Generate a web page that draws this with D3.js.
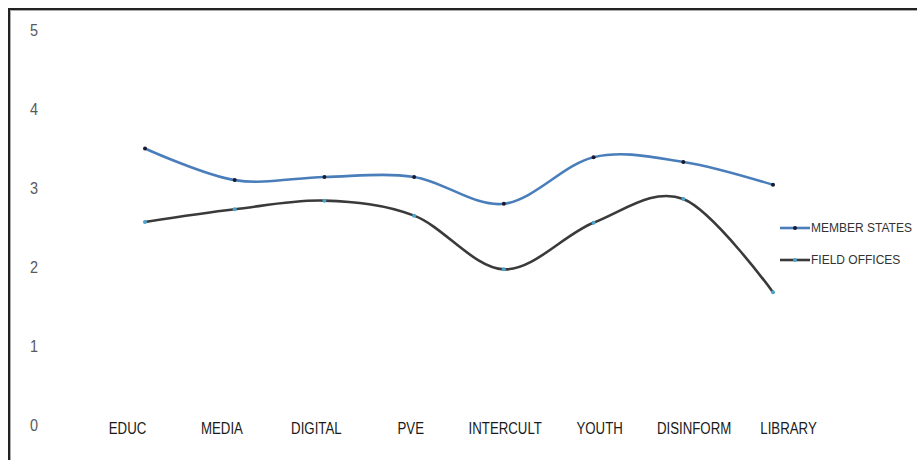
<!DOCTYPE html>
<html>
<head>
<meta charset="utf-8">
<script src="https://cdn.jsdelivr.net/npm/d3@7"></script>
<style>
  html, body { margin: 0; padding: 0; background: #fff; }
  svg { display: block; }
  text { font-family: "Liberation Sans", "DejaVu Sans", sans-serif; }
</style>
</head>
<body>
<svg id="chart" width="917" height="460"></svg>
<script>
// Survey areas along the horizontal axis
const categories = ["EDUC", "MEDIA", "DIGITAL", "PVE", "INTERCULT", "YOUTH", "DISINFORM", "LIBRARY"];
// Average scores per area
const memberStates = [3.5, 3.1, 3.14, 3.14, 2.8, 3.39, 3.33, 3.04];
const fieldOffices = [2.57, 2.73, 2.84, 2.65, 1.97, 2.56, 2.86, 1.68];
const yTicks = [0, 1, 2, 3, 4, 5];
const seriesNames = ["MEMBER STATES", "FIELD OFFICES"];

const svg = d3.select("#chart");
const W = 917, H = 460;

// Outer frame (top and left edges visible)
svg.append("line").attr("x1", 9).attr("x2", W).attr("y1", 9).attr("y2", 9)
  .attr("stroke", "#222").attr("stroke-width", 2);
svg.append("line").attr("x1", 9).attr("x2", W).attr("y1", 10.5).attr("y2", 10.5)
  .attr("stroke", "#aaa").attr("stroke-width", 1);
svg.append("line").attr("x1", 9).attr("x2", 9).attr("y1", 8).attr("y2", H)
  .attr("stroke", "#222").attr("stroke-width", 2);
svg.append("line").attr("x1", 10.5).attr("x2", 10.5).attr("y1", 10).attr("y2", H)
  .attr("stroke", "#aaa").attr("stroke-width", 1);

const x = d3.scalePoint().domain(categories).range([145, 773]);
const xLabel = d3.scalePoint().domain(categories).range([127, 788]);
const y = d3.scaleLinear().domain([0, 5]).range([425, 30]);

// Y axis values (no axis line)
const yAxis = d3.axisLeft(y).tickValues(yTicks).tickSize(0).tickPadding(0).tickFormat(d3.format("d"));
const gy = svg.append("g").attr("transform", "translate(38,0)").call(yAxis);
gy.select(".domain").remove();
gy.selectAll("text").attr("font-size", 17).attr("fill", "#595959")
  .attr("font-family", "\"Liberation Sans\", sans-serif")
  .attr("transform", "scale(0.85,1)");

// Category labels, condensed horizontally
const xAxis = d3.axisBottom(xLabel).tickSize(0).tickPadding(0);
const gx = svg.append("g").attr("transform", "translate(0,422)").call(xAxis);
gx.select(".domain").remove();
gx.selectAll("text").attr("font-size", 17).attr("fill", "#1a1a1a")
  .attr("font-family", "\"Liberation Sans\", sans-serif")
  .attr("transform", "scale(0.78,1)");

const line = d3.line()
  .x((d, i) => x(categories[i]))
  .y(d => y(d))
  .curve(d3.curveCardinal.tension(0));

const series = [
  { name: seriesNames[0], values: memberStates, color: "#4a7ebb", marker: "#1a1a2e" },
  { name: seriesNames[1], values: fieldOffices, color: "#3a3a3a", marker: "#4aa3c8" }
];

series.forEach(s => {
  svg.append("path").datum(s.values)
    .attr("d", line)
    .attr("fill", "none")
    .attr("stroke", s.color)
    .attr("stroke-width", 2.6)
    .attr("stroke-linecap", "round");
  svg.append("g").selectAll("circle").data(s.values).join("circle")
    .attr("cx", (d, i) => x(categories[i]))
    .attr("cy", d => y(d))
    .attr("r", 2)
    .attr("fill", s.marker);
});

// Legend
const legend = svg.append("g");
series.forEach((s, i) => {
  const ly = 228 + i * 32;
  legend.append("line").attr("x1", 780).attr("x2", 810).attr("y1", ly).attr("y2", ly)
    .attr("stroke", s.color).attr("stroke-width", 2.6);
  legend.append("circle").attr("cx", 795).attr("cy", ly).attr("r", 2).attr("fill", s.marker);
  legend.append("text").attr("x", 811).attr("y", ly).attr("dy", "0.36em")
    .attr("font-size", 12).attr("fill", "#333")
    .text(s.name);
});
</script>
</body>
</html>
